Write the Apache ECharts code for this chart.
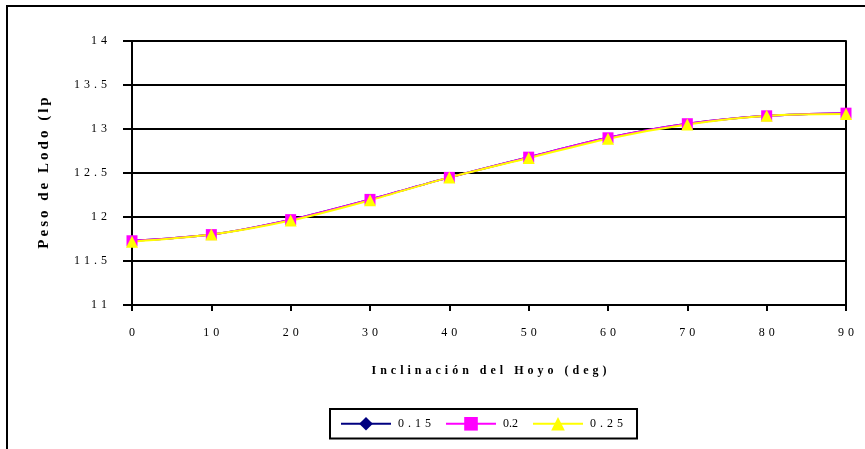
<!DOCTYPE html>
<html>
<head>
<meta charset="utf-8">
<script src="https://cdn.jsdelivr.net/npm/echarts@6/dist/echarts.min.js"></script>
<style>
html,body{margin:0;padding:0;background:#fff;}
#chart{width:865px;height:449px;}
</style>
</head>
<body>
<div id="chart"></div>
<script>
var inclinations = [0, 10, 20, 30, 40, 50, 60, 70, 80, 90];
var s015 = [11.73, 11.80, 11.97, 12.20, 12.45, 12.68, 12.90, 13.06, 13.15, 13.18];
var s02  = [11.73, 11.80, 11.97, 12.20, 12.45, 12.68, 12.90, 13.06, 13.15, 13.18];
var s025 = [11.72, 11.80, 11.96, 12.19, 12.45, 12.67, 12.89, 13.05, 13.15, 13.17];
var seriesNames = ['0.15', '0.2', '0.25'];
var yTicks = [11, 11.5, 12, 12.5, 13, 13.5, 14];
var xTitle = 'Inclinación del Hoyo (deg)';
var yTitle = 'Peso de Lodo (lp';

function spaced(s){ return String(s).split('').join('\u2004'); }
function thin(s){ return String(s).split('').join('\u2009'); }
function pairs(vals){ return inclinations.map(function(x,i){ return [x, vals[i]]; }); }

var serif = '"Liberation Serif", "DejaVu Serif", serif';
var chart = echarts.init(document.getElementById('chart'));
chart.setOption({
  animation: false,
  backgroundColor: '#fff',
  textStyle: { fontFamily: serif },
  graphic: [{
    type: 'rect', shape: { x: 7, y: 6, width: 900, height: 500 },
    style: { fill: 'none', stroke: '#000', lineWidth: 2 }, z: 100
  }],
  grid: { left: 132, right: 19, top: 41, bottom: 144 },
  legend: {
    data: seriesNames,
    left: 330, top: 409, width: 330,
    itemWidth: 50, itemHeight: 17, itemGap: 14,
    padding: [8, 14, 8, 10],
    borderColor: '#000', borderWidth: 2,
    formatter: function(n){ return n === '0.2' ? n : spaced(n); },
    textStyle: { fontFamily: serif, fontSize: 12, color: '#000', padding: [-7, 0, 0, 2] }
  },
  xAxis: {
    type: 'value', min: 0, max: 90, interval: 10,
    name: spaced(xTitle), nameLocation: 'middle', nameGap: 60,
    nameTextStyle: { fontFamily: serif, fontWeight: 'bold', fontSize: 12, color: '#000' },
    axisLine: { show: true, lineStyle: { color: '#000', width: 2 } },
    axisTick: { show: true, length: 6, lineStyle: { color: '#000', width: 2 } },
    axisLabel: { margin: 22, color: '#000', fontSize: 12, fontFamily: serif, formatter: function(v){ return spaced(v); } },
    splitLine: { show: false }
  },
  yAxis: [{
    type: 'value', min: 11, max: 14, interval: 0.5,
    name: thin(yTitle), nameLocation: 'middle', nameGap: 80, nameRotate: 90,
    nameTextStyle: { fontFamily: serif, fontWeight: 'bold', fontSize: 15, color: '#000' },
    axisLine: { show: true, lineStyle: { color: '#000', width: 2 } },
    axisTick: { show: true, length: 9, lineStyle: { color: '#000', width: 2 } },
    axisLabel: { margin: 25, color: '#000', fontSize: 12, fontFamily: serif, formatter: function(v){ return spaced(v); } },
    splitLine: { show: true, lineStyle: { color: '#000', width: 2 } }
  }, {
    type: 'value', min: 11, max: 14, interval: 0.5, position: 'right',
    axisLine: { show: true, lineStyle: { color: '#000', width: 2 } },
    axisTick: { show: false }, axisLabel: { show: false }, splitLine: { show: false }
  }],
  series: [
    { name: '0.15', type: 'line', data: pairs(s015), smooth: 0.3, symbol: 'diamond', symbolSize: 9,
      itemStyle: { color: '#000080' }, lineStyle: { color: '#000080', width: 2 } },
    { name: '0.2', type: 'line', data: pairs(s02), smooth: 0.3, symbol: 'rect', symbolSize: 11,
      itemStyle: { color: '#FF00FF' }, lineStyle: { color: '#FF00FF', width: 2 } },
    { name: '0.25', type: 'line', data: pairs(s025), smooth: 0.3, symbol: 'triangle', symbolSize: 12,
      itemStyle: { color: '#FFFF00' }, lineStyle: { color: '#FFFF00', width: 2 } }
  ]
});
</script>
</body>
</html>
